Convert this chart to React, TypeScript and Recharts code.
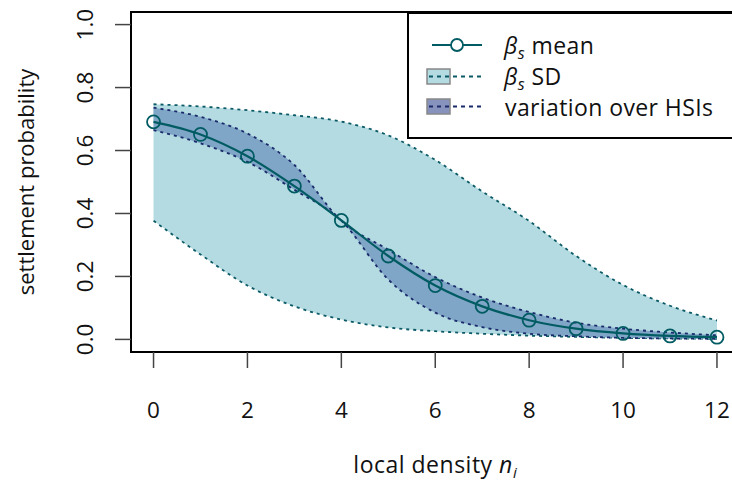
import React from 'react';
import { ComposedChart, Area, Line, XAxis, YAxis, Legend, ReferenceArea } from 'recharts';

// local density n_i
const density = [0, 1, 2, 3, 4, 5, 6, 7, 8, 9, 10, 11, 12];
// beta_s mean
const meanProb = [0.691, 0.651, 0.582, 0.487, 0.378, 0.265, 0.171, 0.105, 0.061, 0.034, 0.019, 0.011, 0.007];
// beta_s SD band
const sdLow = [0.377, 0.27, 0.171, 0.105, 0.063, 0.038, 0.026, 0.018, 0.012, 0.008, 0.005, 0.003, 0.002];
const sdHigh = [0.747, 0.74, 0.728, 0.712, 0.692, 0.648, 0.57, 0.47, 0.376, 0.265, 0.173, 0.107, 0.06];
// variation over HSIs band
const hsiLow = [0.665, 0.623, 0.564, 0.475, 0.377, 0.19, 0.085, 0.039, 0.018, 0.01, 0.005, 0.003, 0.002];
const hsiHigh = [0.736, 0.707, 0.654, 0.554, 0.377, 0.285, 0.198, 0.133, 0.087, 0.053, 0.034, 0.022, 0.013];

const xTicks = [0, 2, 4, 6, 8, 10, 12];
const yTicks = [0, 0.2, 0.4, 0.6, 0.8, 1.0];

const data = density.map((n, i) => ({
  n,
  mean: meanProb[i],
  sd: [sdLow[i], sdHigh[i]],
  hsi: [hsiLow[i], hsiHigh[i]],
}));

const FONT = '"Open Sans", sans-serif';
const TEAL = '#005b63';
const SD_FILL = '#b3dbe1';
const SD_LINE = '#0b5a66';
const HSI_FILL = '#7fa6c6';
const HSI_LINE = '#1b2a6b';

const XTick = ({ x, y, payload }: any) => (
  <text x={x} y={y + 48} textAnchor="middle" fontSize={22.5} fill="#111" fontFamily={FONT}>
    {payload.value}
  </text>
);

const YTick = ({ x, y, payload }: any) => {
  const bx = x - 20;
  return (
    <text x={bx} y={y} transform={`rotate(-90, ${bx}, ${y})`} textAnchor="middle" fontSize={22.5} fill="#111" fontFamily={FONT}>
      {payload.value.toFixed(1)}
    </text>
  );
};

const YTitle = ({ viewBox }: any) => {
  const bx = viewBox.x + 34;
  const cy = viewBox.y + viewBox.height / 2;
  return (
    <text x={bx} y={cy} transform={`rotate(-90, ${bx}, ${cy})`} textAnchor="middle" fontSize={22} fill="#111" fontFamily={FONT}>
      settlement probability
    </text>
  );
};

const XTitle = ({ viewBox }: any) => (
  <text x={viewBox.x + viewBox.width / 2} y={viewBox.y + 121} textAnchor="middle" fontSize={23} letterSpacing={0.5} fill="#111" fontFamily={FONT}>
    local density <tspan fontStyle="italic">n</tspan>
    <tspan fontStyle="italic" fontSize={15} dy={5}>i</tspan>
  </text>
);

const Beta = ({ rest }: { rest: string }) => (
  <>
    <tspan fontStyle="italic">β</tspan>
    <tspan fontStyle="italic" fontSize={16} dy={5}>s</tspan>
    <tspan dy={-5}>{rest}</tspan>
  </>
);

const LegendBox = () => (
  <svg width={340} height={127} style={{ display: 'block' }}>
    <rect x={1} y={1} width={338} height={125} fill="#fff" stroke="#000" strokeWidth={2} />
    <line x1={25} x2={75} y1={33} y2={33} stroke={TEAL} strokeWidth={2.2} />
    <circle cx={50} cy={33} r={6} fill="#fff" stroke={TEAL} strokeWidth={1.8} />
    <rect x={20} y={57} width={23} height={15} fill={SD_FILL} stroke="#888" strokeWidth={1.5} />
    <line x1={22} x2={74} y1={64.5} y2={64.5} stroke={SD_LINE} strokeWidth={1.8} strokeDasharray="4 4" />
    <rect x={20} y={87} width={23} height={15} fill="#8893bd" stroke="#888" strokeWidth={1.5} />
    <line x1={22} x2={74} y1={94.5} y2={94.5} stroke={HSI_LINE} strokeWidth={1.8} strokeDasharray="4 4" />
    <g fontFamily={FONT} fontSize={23} letterSpacing={0.4} fill="#111">
      <text x={97} y={42}><Beta rest=" mean" /></text>
      <text x={97} y={73}><Beta rest=" SD" /></text>
      <text x={98} y={104}>variation over HSIs</text>
    </g>
  </svg>
);

export default function App() {
  return (
    <div style={{ position: 'absolute', left: 0, top: 0, width: 732, height: 484, overflow: 'hidden', background: '#fff' }}>
      <ComposedChart width={760} height={484} data={data} margin={{ top: 12, right: 20.5, bottom: 0, left: 0 }}>
        <XAxis
          type="number"
          dataKey="n"
          domain={[-0.48, 12.48]}
          ticks={xTicks}
          axisLine={false}
          tickSize={16}
          tickLine={{ stroke: '#444', strokeWidth: 1.5 }}
          tick={<XTick />}
          height={132}
          label={<XTitle />}
        />
        <YAxis
          type="number"
          domain={[-0.04, 1.04]}
          ticks={yTicks}
          axisLine={false}
          tickSize={16}
          tickLine={{ stroke: '#444', strokeWidth: 1.5 }}
          tick={<YTick />}
          width={131}
          label={<YTitle />}
        />
        <Area
          type="monotone"
          dataKey="sd"
          fill={SD_FILL}
          fillOpacity={1}
          stroke={SD_LINE}
          strokeWidth={1.8}
          strokeDasharray="3 4"
          isAnimationActive={false}
        />
        <Area
          type="monotone"
          dataKey="hsi"
          fill={HSI_FILL}
          fillOpacity={1}
          stroke={HSI_LINE}
          strokeWidth={1.8}
          strokeDasharray="3 4"
          isAnimationActive={false}
        />
        <Line
          type="monotone"
          dataKey="mean"
          stroke={TEAL}
          strokeWidth={2.2}
          dot={{ r: 6.5, stroke: TEAL, strokeWidth: 1.8, fill: 'none' }}
          isAnimationActive={false}
        />
        <ReferenceArea x1={-0.48} x2={12.48} y1={-0.04} y2={1.04} fill="none" stroke="#000" strokeWidth={2} />
        <Legend
          layout="vertical"
          align="center"
          verticalAlign="middle"
          content={<LegendBox />}
          wrapperStyle={{ left: 407, top: 12, width: 340, height: 127 }}
        />
      </ComposedChart>
    </div>
  );
}
